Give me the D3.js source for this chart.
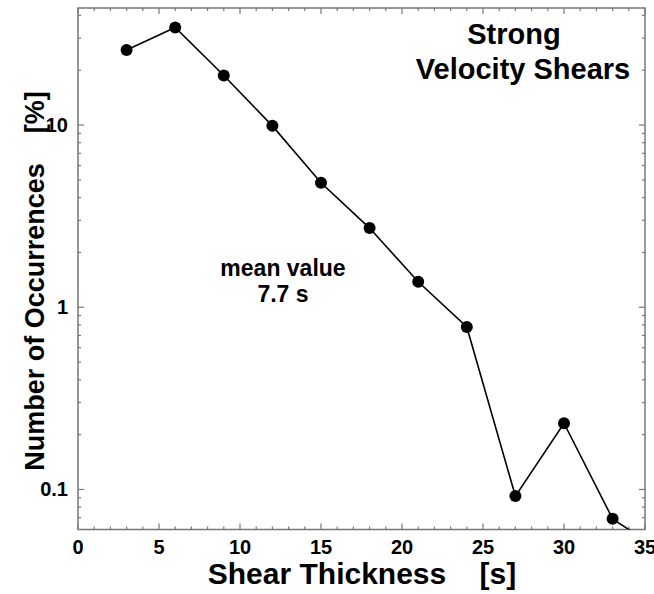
<!DOCTYPE html>
<html>
<head>
<meta charset="utf-8" />
<script src="https://cdn.jsdelivr.net/npm/d3@7"></script>
<style>
  body { margin: 0; background: #fff; }
  svg { display: block; }
  text { font-family: "Liberation Sans", Arial, Helvetica, sans-serif; font-weight: bold; fill: #000; }
  .frame { fill: none; stroke: #777; stroke-width: 1.5; }
  .tick line { stroke: #777; stroke-width: 1.2; }
</style>
</head>
<body>
<div id="chart"></div>
<script>
// shear thickness bins [s]
var thickness = [3, 6, 9, 12, 15, 18, 21, 24, 27, 30, 33, 36];
// occurrences [%]
var occurrences = [25.8, 34.3, 18.7, 9.9, 4.82, 2.72, 1.38, 0.78, 0.092, 0.231, 0.069, 0.046];

var xTicks = [0, 5, 10, 15, 20, 25, 30, 35];
var yTicks = [0.1, 1, 10];
var yTickLabels = ["0.1", "1", "10"];

var W = 654, H = 594;
var pLeft = 78, pRight = 645, pTop = 8, pBottom = 529.5;

var svg = d3.select("#chart").append("svg")
  .attr("width", W)
  .attr("height", H);

var x = d3.scaleLinear().domain([0, 35]).range([pLeft, pRight]);
var y = d3.scaleLog().domain([0.0603, 43.9]).range([pBottom, pTop]);

// minor ticks every unit on x, 2..9 per decade on y
var xMinor = d3.range(0, 36).filter(function (d) { return d % 5 !== 0; });
var yMinor = [];
[0.01, 0.1, 1, 10].forEach(function (p) {
  for (var k = 2; k <= 9; k++) {
    var v = +(p * k).toPrecision(3);
    if (v > 0.0603 && v < 43.9) yMinor.push(v);
  }
});

function tickLines(g, vals, len, orient) {
  g.selectAll("line.t" + orient + len).data(vals).enter().append("line")
    .attr("class", "t" + orient + len)
    .attr("x1", function (d) { return orient === "l" ? pLeft : orient === "r" ? pRight : x(d); })
    .attr("x2", function (d) { return orient === "l" ? pLeft + len : orient === "r" ? pRight - len : x(d); })
    .attr("y1", function (d) { return orient === "b" ? pBottom : orient === "t" ? pTop : y(d); })
    .attr("y2", function (d) { return orient === "b" ? pBottom - len : orient === "t" ? pTop + len : y(d); });
}

var ticks = svg.append("g").attr("class", "tick");
tickLines(ticks, xTicks, 6, "b");
tickLines(ticks, xMinor, 3, "b");
tickLines(ticks, xTicks, 6, "t");
tickLines(ticks, xMinor, 3, "t");
tickLines(ticks, yTicks, 6, "l");
tickLines(ticks, yMinor, 3, "l");
tickLines(ticks, yTicks, 6, "r");
tickLines(ticks, yMinor, 3, "r");

svg.append("rect")
  .attr("class", "frame")
  .attr("x", pLeft).attr("y", pTop)
  .attr("width", pRight - pLeft).attr("height", pBottom - pTop);

// tick labels
svg.selectAll("text.xl").data(xTicks).enter().append("text")
  .attr("class", "xl")
  .attr("x", function (d) { return x(d); })
  .attr("y", pBottom + 24)
  .attr("text-anchor", "middle")
  .style("font-size", "20px")
  .text(function (d) { return d; });

svg.selectAll("text.yl").data(yTicks).enter().append("text")
  .attr("class", "yl")
  .attr("x", pLeft - 10)
  .attr("y", function (d) { return y(d) + 7; })
  .attr("text-anchor", "end")
  .style("font-size", "20px")
  .text(function (d, i) { return yTickLabels[i]; });

// data
svg.append("clipPath").attr("id", "plot-clip")
  .append("rect")
  .attr("x", pLeft).attr("y", pTop)
  .attr("width", pRight - pLeft).attr("height", pBottom - pTop);

var pts = thickness.map(function (d, i) { return [d, occurrences[i]]; });

var plot = svg.append("g").attr("clip-path", "url(#plot-clip)");

plot.append("path")
  .datum(pts)
  .attr("fill", "none")
  .attr("stroke", "#000")
  .attr("stroke-width", 1.6)
  .attr("d", d3.line()
    .x(function (d) { return x(d[0]); })
    .y(function (d) { return y(d[1]); }));

plot.selectAll("circle").data(pts).enter().append("circle")
  .attr("cx", function (d) { return x(d[0]); })
  .attr("cy", function (d) { return y(d[1]); })
  .attr("r", 6)
  .attr("fill", "#000");

// annotations
svg.append("text").attr("x", 514).attr("y", 44)
  .attr("text-anchor", "middle").style("font-size", "29px").text("Strong");
svg.append("text").attr("x", 523).attr("y", 79)
  .attr("text-anchor", "middle").style("font-size", "29px").text("Velocity Shears");

svg.append("text").attr("x", 283).attr("y", 276)
  .attr("text-anchor", "middle").style("font-size", "23px").text("mean value");
svg.append("text").attr("x", 283).attr("y", 302)
  .attr("text-anchor", "middle").style("font-size", "23px").text("7.7 s");

// axis titles
svg.append("text").attr("x", 362).attr("y", 584)
  .attr("text-anchor", "middle").style("font-size", "30px")
  .attr("xml:space", "preserve")
  .text("Shear Thickness    [s]");

svg.append("text")
  .attr("transform", "translate(44," + 281 + ") rotate(-90)")
  .attr("text-anchor", "middle").style("font-size", "27px")
  .attr("xml:space", "preserve")
  .text("Number of Occurrences    [%]");
</script>
</body>
</html>
